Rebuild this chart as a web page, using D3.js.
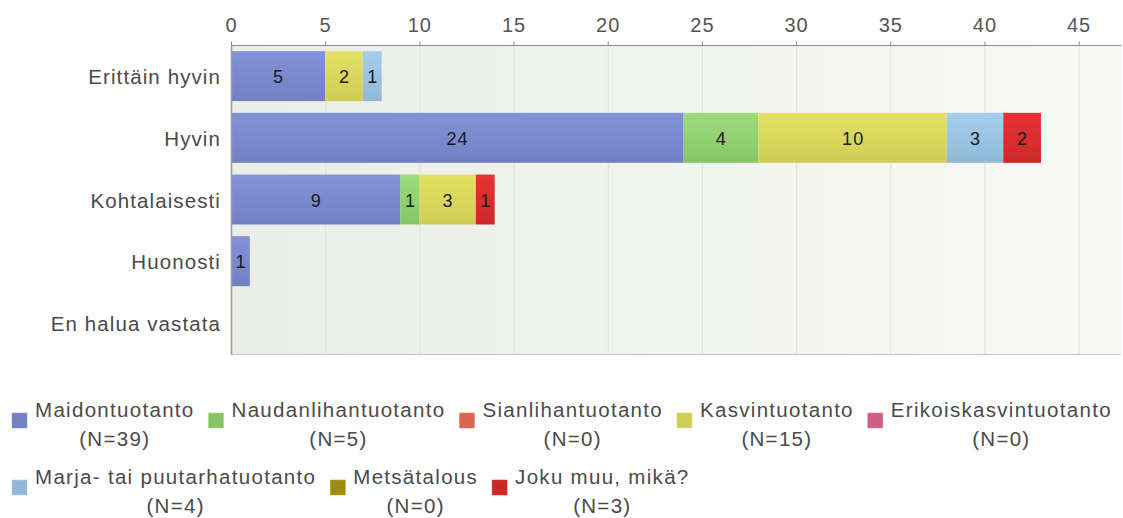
<!DOCTYPE html>
<html>
<head>
<meta charset="utf-8">
<script src="https://cdn.jsdelivr.net/npm/d3@7"></script>
<style>
  body { margin: 0; background: #fff; }
  text { font-family: "Liberation Sans", Arial, sans-serif; }
</style>
</head>
<body>
<div id="chart"></div>
<script>
let categories = ["Erittäin hyvin", "Hyvin", "Kohtalaisesti", "Huonosti", "En halua vastata"]

let seriesNames = [
  "Maidontuotanto",
  "Naudanlihantuotanto",
  "Sianlihantuotanto",
  "Kasvintuotanto",
  "Erikoiskasvintuotanto",
  "Marja- tai puutarhatuotanto",
  "Metsätalous",
  "Joku muu, mikä?"
]

let maidon = [5, 24, 9, 1, 0]
let naudan = [0, 4, 1, 0, 0]
let sian = [0, 0, 0, 0, 0]
let kasvin = [2, 10, 3, 0, 0]
let erikois = [0, 0, 0, 0, 0]
let marja = [1, 3, 0, 0, 0]
let metsa = [0, 0, 0, 0, 0]
let joku = [0, 2, 1, 0, 0]

let seriesValues = [maidon, naudan, sian, kasvin, erikois, marja, metsa, joku]

let xTicks = [0, 5, 10, 15, 20, 25, 30, 35, 40, 45]

// top / bottom colours of the bar gradients
let colorsTop = ["#8392d8", "#9cdc7a", "#ee7866", "#e4e264", "#e0729a", "#a6ceef", "#b0a218", "#e63434"]
let colorsBottom = ["#7181c2", "#86c664", "#dc6450", "#d0cc56", "#cc5e86", "#92b8d7", "#9c8e0c", "#cc2828"]

function renderChart(){
  let width = 1123,
      height = 518

  let svg = d3.select("#chart")
    .append("svg")
    .attr("width", width)
    .attr("height", height)

  let left = 231, right = 1121, top = 45, bottom = 354

  let x = d3.scaleLinear().domain([0, 47.25]).range([left, right])
  let y = d3.scaleBand().domain(categories).range([top, bottom])
    .paddingInner(0.19).paddingOuter(0.1)

  let defs = svg.append("defs")

  let bg = defs.append("linearGradient").attr("id", "bg")
    .attr("x1", "0%").attr("x2", "100%").attr("y1", "0%").attr("y2", "0%")
  bg.append("stop").attr("offset", "0%").attr("stop-color", "#ebeee7")
  bg.append("stop").attr("offset", "100%").attr("stop-color", "#f8f9f6")

  seriesNames.forEach(function(name, i){
    let g = defs.append("linearGradient").attr("id", "bar" + i)
      .attr("x1", "0%").attr("x2", "0%").attr("y1", "0%").attr("y2", "100%")
    g.append("stop").attr("offset", "0%").attr("stop-color", colorsTop[i])
    g.append("stop").attr("offset", "100%").attr("stop-color", colorsBottom[i])
  })

  // plot background
  svg.append("rect")
    .attr("x", left).attr("y", top)
    .attr("width", right - left).attr("height", bottom - top)
    .attr("fill", "url(#bg)")

  // grid
  svg.append("g").selectAll("line")
    .data(xTicks.slice(1))
    .enter().append("line")
      .attr("x1", d => x(d) + 0.5).attr("x2", d => x(d) + 0.5)
      .attr("y1", top).attr("y2", bottom)
      .attr("stroke", "#dfe1dd")

  // stacked bars
  let tableRows = categories.map(function(c, ci){
    let row = { category: c }
    seriesNames.forEach(function(s, si){ row[s] = seriesValues[si][ci] })
    return row
  })
  let stack = d3.stack().keys(seriesNames)(tableRows)

  let layers = svg.append("g").selectAll("g")
    .data(stack)
    .enter().append("g")
      .attr("fill", (d, i) => "url(#bar" + i + ")")

  let segs = layers.selectAll("g")
    .data(d => d.filter(s => s[1] - s[0] > 0))
    .enter().append("g")

  segs.append("rect")
    .attr("x", d => x(d[0]))
    .attr("y", d => y(d.data.category))
    .attr("width", d => x(d[1]) - x(d[0]))
    .attr("height", y.bandwidth())

  segs.append("text")
    .attr("x", d => (x(d[0]) + x(d[1])) / 2 + 0.6)
    .attr("y", d => y(d.data.category) + y.bandwidth() / 2 + 7)
    .attr("text-anchor", "middle")
    .style("font-size", "18px")
    .style("letter-spacing", "1.2px")
    .attr("fill", "#1a1a1a")
    .text(d => d[1] - d[0])

  // frame lines
  svg.append("line")
    .attr("x1", left).attr("x2", right).attr("y1", bottom + 0.5).attr("y2", bottom + 0.5)
    .attr("stroke", "#c8c8c8")
  svg.append("line")
    .attr("x1", left + 0.5).attr("x2", left + 0.5).attr("y1", top).attr("y2", bottom + 1)
    .attr("stroke", "#9a9a9a").attr("stroke-width", 1.5)

  // top axis
  let axis = svg.append("g")
    .attr("transform", "translate(0," + (top + 0.5) + ")")
    .call(d3.axisTop(x).tickValues(xTicks).tickSize(4).tickPadding(10))
  axis.select(".domain").attr("stroke", "#8a8a8a").attr("d", "M" + left + ",0H" + right)
  axis.selectAll(".tick line").attr("stroke", "#8a8a8a")
  axis.selectAll(".tick text")
    .style("font-family", "'Liberation Sans', Arial, sans-serif")
    .style("font-size", "20px")
    .style("letter-spacing", "1px")
    .attr("fill", "#555")

  // category labels
  svg.append("g").selectAll("text")
    .data(categories)
    .enter().append("text")
      .attr("x", left - 10)
      .attr("y", d => y(d) + y.bandwidth() / 2 + 8)
      .attr("text-anchor", "end")
      .style("font-size", "20.5px")
      .style("letter-spacing", "1.1px")
      .attr("fill", "#4a4a4a")
      .text(d => d)

  // legend, two rows
  let legendRows = [[0, 1, 2, 3, 4], [5, 6, 7]]
  let legend = svg.append("g")
  legendRows.forEach(function(row, r){
    let cx = 12,
        baseY = 417 + r * 67
    row.forEach(function(si){
      let item = legend.append("g")
      item.append("rect")
        .attr("x", cx).attr("y", baseY - 4)
        .attr("width", 15).attr("height", 15)
        .attr("fill", colorsBottom[si])
        .attr("stroke", colorsTop[si]).attr("stroke-width", 0.5)
      let l1 = item.append("text")
        .attr("y", baseY)
        .attr("text-anchor", "middle")
        .style("font-size", "20.5px")
        .style("letter-spacing", "1.3px")
        .attr("fill", "#4a4a4a")
        .text(seriesNames[si])
      let l2 = item.append("text")
        .attr("y", baseY + 29)
        .attr("text-anchor", "middle")
        .style("font-size", "20.5px")
        .style("letter-spacing", "1.3px")
        .attr("fill", "#4a4a4a")
        .text("(N=" + d3.sum(seriesValues[si]) + ")")
      let w = Math.max(l1.node().getComputedTextLength(), l2.node().getComputedTextLength())
      let tx = cx + 23 + w / 2
      l1.attr("x", tx)
      l2.attr("x", tx)
      cx = cx + 23 + w + 14
    })
  })
}

renderChart()
</script>
</body>
</html>
